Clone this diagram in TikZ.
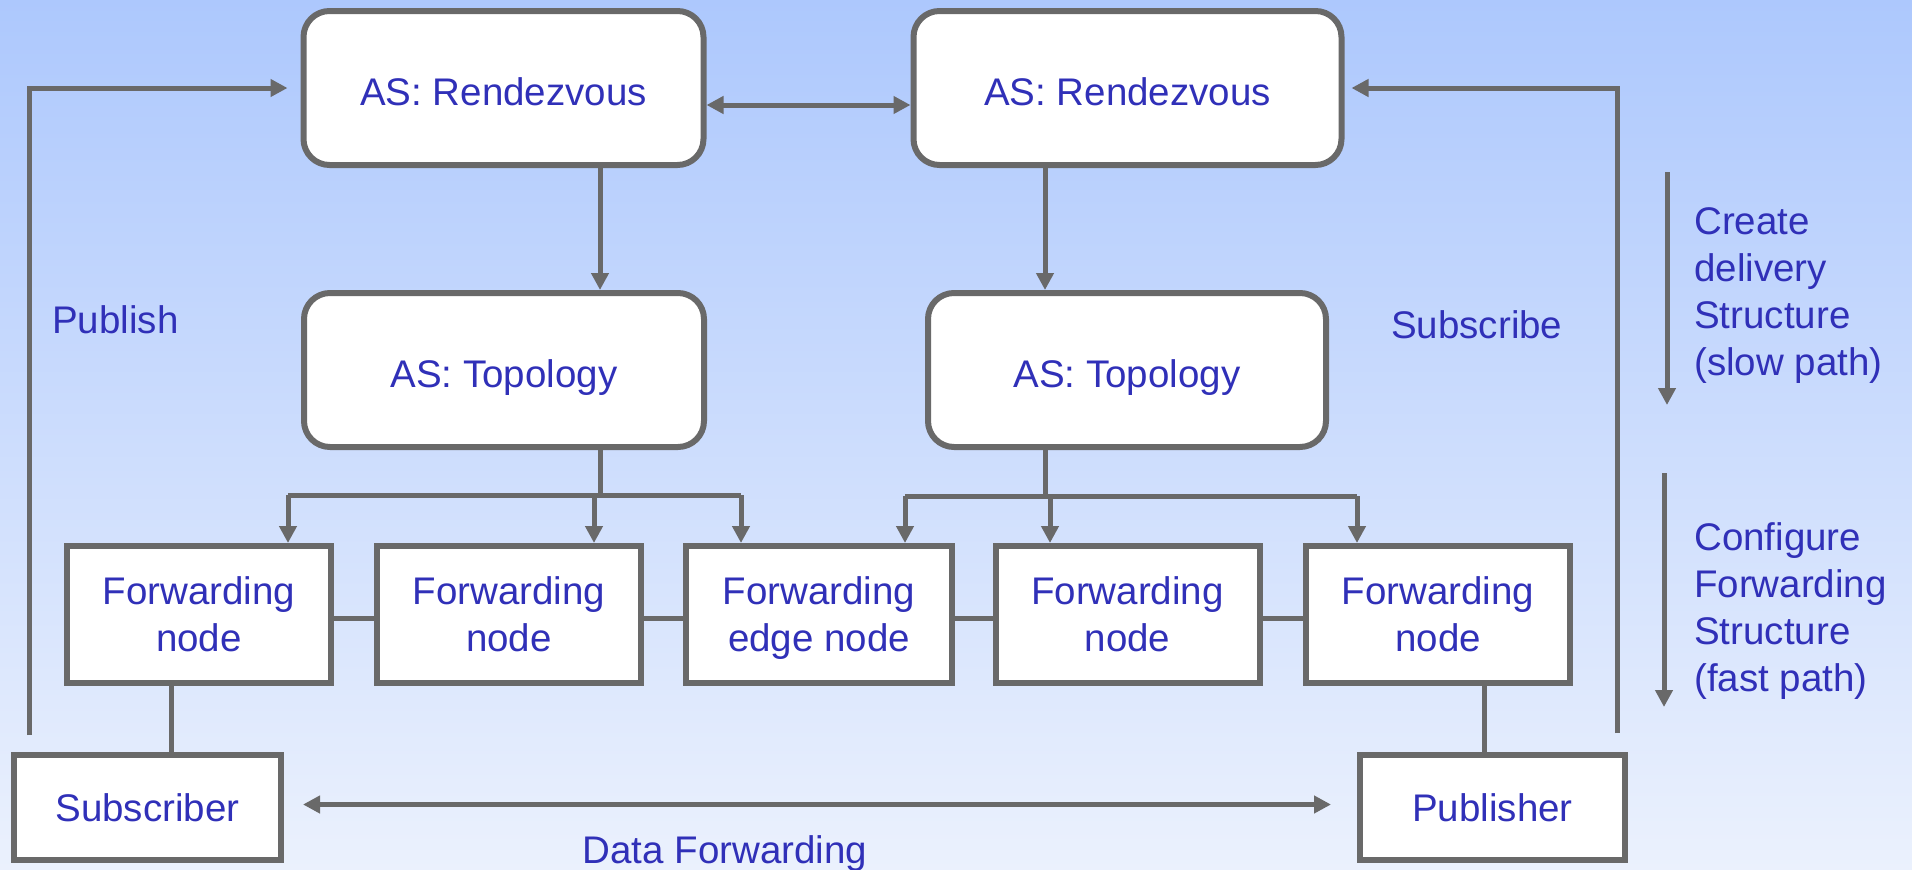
\documentclass[tikz,border=0pt]{standalone}
\usepackage{fontspec}
\setmainfont{Liberation Sans}
\usetikzlibrary{arrows.meta,calc}
\definecolor{lncol}{HTML}{696969}
\definecolor{txtcol}{HTML}{3030B8}
\definecolor{bgtop}{HTML}{ADC8FD}
\definecolor{bgbot}{HTML}{EBF1FD}
\tikzset{
  txt/.style={text=txtcol, font=\fontsize{38.5}{47}\selectfont, inner sep=0pt},
  rbox/.style={txt, draw=lncol, line width=6pt, fill=white, rounded corners=26pt, minimum height=154pt, text height=34pt, text depth=0pt},
  sbox/.style={txt, draw=lncol, line width=6pt, fill=white, minimum width=264pt, align=center, text depth=0pt},
  conn/.style={draw=lncol, line width=5pt},
  arr/.style={conn, -{Triangle[length=17pt,width=17pt]}},
  darr/.style={conn, {Triangle[length=17pt,width=17pt]}-{Triangle[length=17pt,width=17pt]}},
}
\begin{document}
\begin{tikzpicture}[x=1pt,y=-1pt]
\useasboundingbox (0,0) rectangle (1912,870);
\shade[top color=bgtop, bottom color=bgbot] (0,0) rectangle (1912,870);

% boxes
\node[rbox, minimum width=400pt] (rvL) at (503.5,88) {AS: Rendezvous};
\node[rbox, minimum width=428pt] (rvR) at (1127.5,88) {AS: Rendezvous};
\node[rbox, minimum width=400pt] (topL) at (504,370) {AS: Topology};
\node[rbox, minimum width=398pt] (topR) at (1127,370) {AS: Topology};

\node[sbox, minimum height=137pt] (fn1) at (199,614.5) {Forwarding\\node};
\node[sbox, minimum height=137pt] (fn2) at (509,614.5) {Forwarding\\node};
\node[sbox, minimum height=137pt, minimum width=266pt] (fn3) at (819,614.5) {Forwarding\\edge node};
\node[sbox, minimum height=137pt] (fn4) at (1127.5,614.5) {Forwarding\\node};
\node[sbox, minimum height=137pt] (fn5) at (1438,614.5) {Forwarding\\node};

\node[sbox, minimum height=105pt, minimum width=267pt, text height=28pt] (sub) at (147.5,807.5) {Subscriber};
\node[sbox, minimum height=105pt, minimum width=265pt, text height=28pt] (pub) at (1492.5,807.5) {Publisher};

% labels
\node[txt, anchor=west] (lpub) at (52,320) {Publish};
\node[txt, anchor=west] (lsub) at (1391,325) {Subscribe};
\node[txt, anchor=west, align=left] (lcreate) at (1694,296) {Create\\delivery\\Structure\\(slow path)};
\node[txt, anchor=west, align=left] (lconf) at (1694,611) {Configure\\Forwarding\\Structure\\(fast path)};
\node[txt] (ldata) at (725,854) {Data Forwarding};

% publish / subscribe loops
\coordinate (pubstart) at (29,735);
\coordinate (substart) at (1617,733);
\draw[arr, shorten >=13pt] (pubstart) |- (rvL.west);
\draw[arr, shorten >=7pt] (substart) |- (rvR.east);

% rendezvous link
\draw[darr] ($(rvL.east)+(0,17)$) -- ($(rvR.west)+(0,17)$);

% rendezvous -> topology
\draw[arr] ($(rvL.south)+(96.5,0)$) -- ($(topL.north)+(96,0)$);
\draw[arr] ($(rvR.south)+(-82.5,0)$) -- ($(topR.north)+(-82,0)$);

% topology L fan-out
\coordinate (tLs) at ($(topL.south)+(96,0)$);
\coordinate (barL) at (600,495);
\draw[conn] (tLs) -- (barL);
\draw[conn] ($(fn1.north)+(89,-48)$) -- ($(fn3.north)+(-78,-48)$);
\draw[arr] ($(fn1.north)+(89,-48)$) -- ($(fn1.north)+(89,0)$);
\draw[arr] ($(fn2.north)+(85,-48)$) -- ($(fn2.north)+(85,0)$);
\draw[arr] ($(fn3.north)+(-78,-48)$) -- ($(fn3.north)+(-78,0)$);

% topology R fan-out
\coordinate (tRs) at ($(topR.south)+(-82,0)$);
\coordinate (barR) at (1045,496);
\draw[conn] (tRs) -- (barR);
\draw[conn] ($(fn3.north)+(86,-47)$) -- ($(fn5.north)+(-81,-47)$);
\draw[arr] ($(fn3.north)+(86,-47)$) -- ($(fn3.north)+(86,0)$);
\draw[arr] ($(fn4.north)+(-77.5,-47)$) -- ($(fn4.north)+(-77.5,0)$);
\draw[arr] ($(fn5.north)+(-81,-47)$) -- ($(fn5.north)+(-81,0)$);

% forwarding chain
\draw[conn] ($(fn1.east)+(0,4)$) -- ($(fn2.west)+(0,4)$);
\draw[conn] ($(fn2.east)+(0,4)$) -- ($(fn3.west)+(0,4)$);
\draw[conn] ($(fn3.east)+(0,4)$) -- ($(fn4.west)+(0,4)$);
\draw[conn] ($(fn4.east)+(0,4)$) -- ($(fn5.west)+(0,4)$);

% to subscriber / publisher
\draw[conn] ($(fn1.south)+(-28,0)$) -- ($(sub.north)+(23.5,0)$);
\draw[conn] ($(fn5.south)+(46,0)$) -- ($(pub.north)+(-8.5,0)$);

% data forwarding
\draw[darr, shorten <=19pt, shorten >=26pt] ($(sub.east)+(0,-3)$) -- ($(pub.west)+(0,-3)$);

% phase arrows
\coordinate (c1) at (1667,172);
\coordinate (c2) at (1667,405);
\coordinate (c3) at (1664,473);
\coordinate (c4) at (1664,707);
\draw[arr] (c1) -- (c2);
\draw[arr] (c3) -- (c4);
\end{tikzpicture}
\end{document}
